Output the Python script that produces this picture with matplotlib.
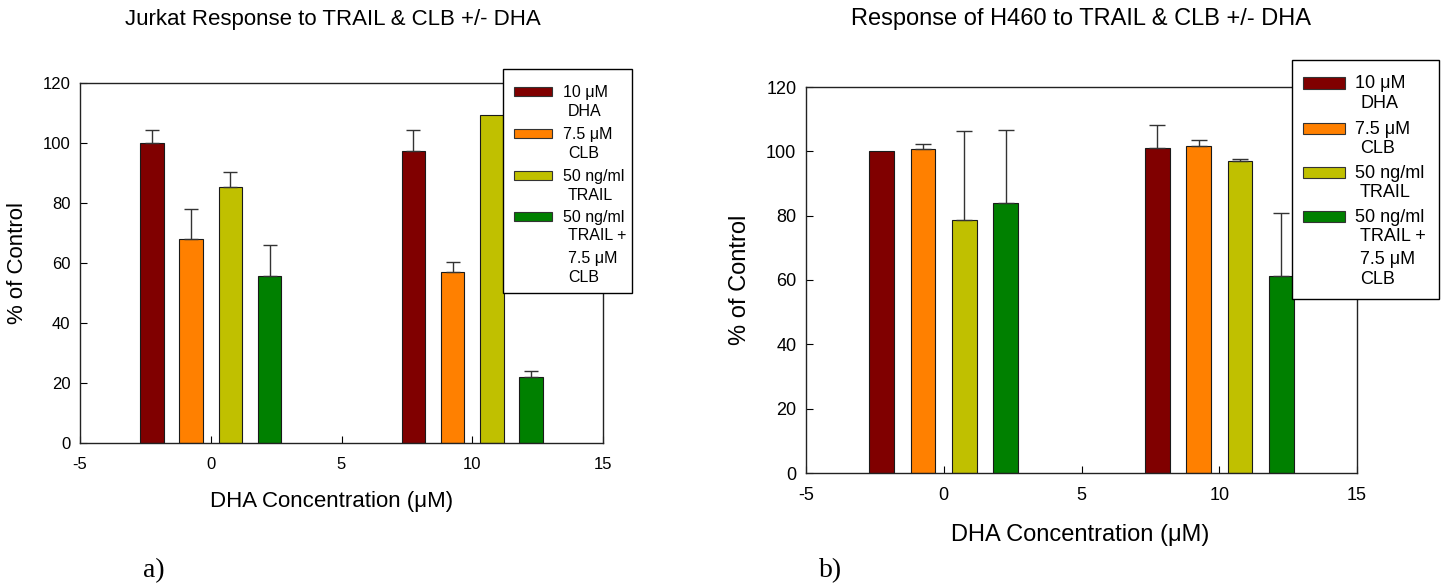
import numpy as np
import matplotlib
matplotlib.use("Agg")
import matplotlib.pyplot as plt
from matplotlib.patches import Rectangle

plt.rcParams['font.family'] = ['Liberation Sans', 'DejaVu Sans']
plt.rcParams['axes.unicode_minus'] = False

# ---------------- data ----------------
groups = [0, 10]                      # DHA concentration (uM)
series_labels = [["10 \u03bcM", "DHA"],
                 ["7.5 \u03bcM", "CLB"],
                 ["50 ng/ml", "TRAIL"],
                 ["50 ng/ml", "TRAIL +", "7.5 \u03bcM", "CLB"]]
colors = ["#800000", "#FF8000", "#C0C000", "#008000"]

jurkat_dha = [100.0, 97.3]
jurkat_clb = [68.0, 57.1]
jurkat_trail = [85.4, 109.5]
jurkat_combo = [55.6, 22.1]
jurkat_dha_err = [4.5, 7.2]
jurkat_clb_err = [10.1, 3.3]
jurkat_trail_err = [4.9, np.nan]
jurkat_combo_err = [10.4, 2.0]

h460_dha = [100.0, 100.9]
h460_clb = [100.8, 101.6]
h460_trail = [78.8, 97.1]
h460_combo = [84.0, 61.1]
h460_dha_err = [np.nan, 7.4]
h460_clb_err = [1.4, 2.0]
h460_trail_err = [27.4, 0.6]
h460_combo_err = [22.7, 19.6]

yticks = [0, 20, 40, 60, 80, 100, 120]
xticks = [-5, 0, 5, 10, 15]

W, H = 1445, 586
fig = plt.figure(figsize=(W / 100, H / 100), dpi=100)


def fx(x):
    return x / W


def fy(y):
    return 1 - y / H


def panel(rect, vals, errs, fs_tick, capsize):
    ax = fig.add_axes(rect)
    width = 0.9
    step = 1.5
    g = np.array(groups, dtype=float)
    for i, (v, e, c) in enumerate(zip(vals, errs, colors)):
        pos = g + (i - 1.5) * step
        ax.bar(pos, v, width=width, color=c, edgecolor="#1a1a1a", linewidth=0.8, zorder=2)
        e = np.array(e, dtype=float)
        ok = ~np.isnan(e)
        if ok.any():
            ax.errorbar(pos[ok], np.array(v)[ok],
                        yerr=[np.zeros(ok.sum()), e[ok]],
                        fmt="none", ecolor="#333333", elinewidth=1.0,
                        capsize=capsize, capthick=1.0, zorder=3)
    ax.set_xlim(-5, 15)
    ax.set_ylim(0, 120)
    ax.set_xticks(xticks)
    ax.set_yticks(yticks)
    ax.tick_params(direction="in", length=5, width=0.8, labelsize=fs_tick)
    ax.tick_params(axis="x", pad=10)
    ax.tick_params(axis="y", pad=7)
    for s in ax.spines.values():
        s.set_linewidth(1.0)
        s.set_color("#222222")
    return ax


# ---------------- left panel ----------------
axL = panel([fx(80), fy(443), (603 - 80) / W, (443 - 83) / H],
            [jurkat_dha, jurkat_clb, jurkat_trail, jurkat_combo],
            [jurkat_dha_err, jurkat_clb_err, jurkat_trail_err, jurkat_combo_err],
            12, 5)

# ---------------- right panel ----------------
axR = panel([fx(806), fy(473), (1357 - 806) / W, (473 - 87) / H],
            [h460_dha, h460_clb, h460_trail, h460_combo],
            [h460_dha_err, h460_clb_err, h460_trail_err, h460_combo_err],
            13, 5.5)

# titles & labels
fig.text(fx(333), fy(19), "Jurkat Response to TRAIL & CLB +/- DHA",
         ha="center", va="center", fontsize=16)
fig.text(fx(1081), fy(19), "Response of H460 to TRAIL & CLB +/- DHA",
         ha="center", va="center", fontsize=17)
fig.text(fx(18), fy(263), "% of Control", rotation=90, ha="center", va="center", fontsize=16)
fig.text(fx(740), fy(280), "% of Control", rotation=90, ha="center", va="center", fontsize=17)
fig.text(fx(332), fy(502), "DHA Concentration (\u03bcM)", ha="center", va="center", fontsize=16)
fig.text(fx(1080), fy(535), "DHA Concentration (\u03bcM)", ha="center", va="center", fontsize=17)
fig.text(fx(154), fy(571), "a)", ha="center", va="center", fontsize=20, family="Liberation Serif")
fig.text(fx(831), fy(571), "b)", ha="center", va="center", fontsize=20, family="Liberation Serif")


# ---------------- legends (manual) ----------------
def legend(box, px0, pw, ph, ys, tx, fs, dline, dblock, indent=5):
    x0, y0, x1, y1 = box
    frame = Rectangle((fx(x0), fy(y1)), (x1 - x0) / W, (y1 - y0) / H,
                      transform=fig.transFigure, facecolor="white",
                      edgecolor="black", linewidth=1.0, zorder=10)
    fig.add_artist(frame)
    for lines, c, yc in zip(series_labels, colors, ys):
        r = Rectangle((fx(px0), fy(yc + ph / 2)), pw / W, ph / H,
                      transform=fig.transFigure, facecolor=c,
                      edgecolor="#333333", linewidth=0.8, zorder=11)
        fig.add_artist(r)
        for k, t in enumerate(lines):
            yy = yc + 1 + (k // 2) * dblock + (k % 2) * dline
            xx = tx + (indent if k > 0 else 0)
            fig.text(fx(xx), fy(yy), t, ha="left", va="center",
                     fontsize=fs, zorder=12)


legend((503, 69, 632, 293), 514, 38, 9, [91, 133, 175, 216], 563, 11.5, 19, 41)
legend((1292, 60, 1439, 299), 1303, 42, 11, [83, 128, 172, 216], 1355, 13, 19.5, 43)

fig.savefig("out.png", dpi=100)
